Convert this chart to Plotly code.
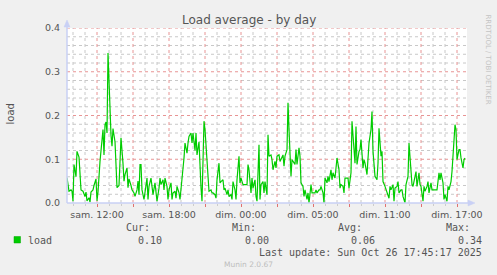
import plotly.graph_objects as go

# ---- data: minutes since sam. 09:30 (5-minute samples), load average ----
minutes = [0, 5, 10, 20, 25, 30, 35, 45, 50, 60, 65, 70, 80, 85, 90, 95, 100, 110, 115, 120,
           130, 135, 145, 150, 155, 165, 170, 180, 185, 190, 195, 200, 205, 215, 220, 225, 230, 240, 245, 250,
           260, 265, 270, 280, 285, 290, 300, 305, 310, 320,
           325, 335, 340, 350, 355, 360, 365, 370, 375, 385, 390, 400, 405, 410, 420, 425, 430, 440, 445, 450,
           460, 465, 470, 480, 485, 490, 500, 505, 510, 520, 525, 530, 540, 545, 550, 560, 565, 570, 580, 585,
           590, 600, 605, 610, 620, 625, 630, 640, 645, 650, 660, 665, 670,
           675, 680, 685, 690, 700, 705, 710, 720, 725, 730, 740, 745, 750, 760, 765, 770, 780, 785, 790, 800,
           805, 810, 820, 825, 830, 840, 845, 850, 860, 865, 870, 880, 885, 890, 900, 905, 910, 920, 925, 930,
           940, 945, 950, 960, 965, 970, 980, 985, 990, 1000, 1005, 1010,
           1020, 1025, 1030, 1040, 1045, 1050, 1060, 1065, 1070, 1080, 1085, 1090, 1100, 1105, 1110, 1120, 1125,
           1130, 1140, 1145, 1150, 1160, 1165, 1170, 1180, 1185, 1190, 1200, 1205, 1210, 1220, 1225, 1230, 1240,
           1245, 1250, 1260, 1265, 1270, 1280, 1285, 1290, 1300, 1305, 1310, 1320, 1325, 1330, 1340, 1345, 1350,
           1360, 1365, 1370, 1380, 1385, 1390, 1400, 1405, 1410, 1420, 1425, 1430, 1440, 1445, 1450, 1460, 1465,
           1470, 1480, 1485, 1490, 1500, 1505, 1510, 1520, 1525, 1530, 1535, 1540, 1550, 1555, 1560, 1570, 1575,
           1580, 1590, 1595, 1600, 1610, 1615, 1620, 1630, 1635, 1640, 1650, 1655, 1660, 1670, 1675, 1680, 1690, 1695,
           1700, 1705, 1710, 1720, 1725, 1730, 1740, 1745, 1750, 1760, 1765, 1770, 1780, 1785, 1790, 1800, 1805,
           1810, 1820, 1825, 1830, 1840, 1845, 1850, 1860, 1865, 1870, 1880, 1885, 1890, 1900, 1905, 1910, 1920,
           1925, 1930, 1940, 1945, 1950, 1960, 1965, 1970, 1980, 1985, 1990]
load = [0.058, 0.042, 0.027, 0.030, 0.027, 0.004, 0.088, 0.060, 0.118, 0.105, 0.050, 0.030, 0.027, 0.020, 0.015, 0.025, 0.005, 0.012, 0.002, 0.025,
        0.030, 0.040, 0.055, 0.005, 0.025, 0.095, 0.126, 0.168, 0.110, 0.179, 0.185, 0.160, 0.343, 0.209, 0.155, 0.130, 0.170, 0.140, 0.088, 0.035,
        0.040, 0.080, 0.149, 0.090, 0.050, 0.065, 0.080, 0.035, 0.055, 0.040,
        0.030, 0.023, 0.015, 0.030, 0.050, 0.019, 0.088, 0.088, 0.030, 0.008, 0.023, 0.057, 0.008, 0.038, 0.057, 0.030, 0.019, 0.046, 0.027, 0.004,
        0.034, 0.057, 0.042, 0.053, 0.030, 0.057, 0.038, 0.008, 0.030, 0.046, 0.008, 0.023, 0.027, 0.011, 0.038, 0.023, 0.008, 0.030, 0.076, 0.103,
        0.137, 0.114, 0.137, 0.152, 0.160, 0.137, 0.160, 0.120, 0.160, 0.110, 0.140, 0.076, 0.035,
        0.004, 0.122, 0.187, 0.168, 0.084, 0.038, 0.027, 0.030, 0.023, 0.023, 0.019, 0.011, 0.053, 0.091, 0.046, 0.049, 0.053, 0.030, 0.034, 0.019,
        0.030, 0.015, 0.019, 0.008, 0.049, 0.030, 0.008, 0.053, 0.107, 0.046, 0.057, 0.042, 0.042, 0.042, 0.042, 0.088, 0.076, 0.023, 0.057, 0.034,
        0.053, 0.015, 0.004, 0.133, 0.008, 0.042, 0.049, 0.023, 0.049, 0.019, 0.156, 0.107,
        0.110, 0.099, 0.076, 0.095, 0.080, 0.107, 0.110, 0.095, 0.099, 0.110, 0.084, 0.107, 0.122, 0.229, 0.168, 0.061, 0.099,
        0.095, 0.088, 0.122, 0.088, 0.126, 0.107, 0.046, 0.038, 0.015, 0.030, 0.008, 0.023, 0.000, 0.042, 0.023, 0.023, 0.023,
        0.030, 0.023, 0.030, 0.030, 0.038, 0.023, 0.000, 0.057, 0.046, 0.061, 0.049, 0.076, 0.053, 0.069, 0.057, 0.090, 0.103,
        0.076, 0.034, 0.042, 0.038, 0.023, 0.057, 0.057, 0.057, 0.034, 0.069, 0.187, 0.156, 0.091, 0.175, 0.088, 0.118, 0.122,
        0.145, 0.080, 0.099, 0.091, 0.065, 0.107, 0.137, 0.168, 0.209, 0.118, 0.076, 0.061, 0.053, 0.091, 0.171, 0.107, 0.118,
        0.049, 0.038, 0.030, 0.023, 0.011, 0.038, 0.030, 0.042, 0.004, 0.034, 0.038, 0.049, 0.023, 0.030, 0.030, 0.015, 0.000, 0.042,
        0.053, 0.061, 0.137, 0.084, 0.042, 0.038, 0.061, 0.072, 0.038, 0.069, 0.042, 0.038, 0.004, 0.038, 0.027, 0.038, 0.049,
        0.023, 0.046, 0.030, 0.030, 0.030, 0.030, 0.030, 0.069, 0.053, 0.069, 0.046, 0.008, 0.019, 0.004, 0.038, 0.030, 0.049,
        0.072, 0.114, 0.179, 0.168, 0.099, 0.122, 0.122, 0.103, 0.080, 0.099, 0.103]

x_range = [0, 2000]
y_range = [0, 0.4]
major_ticks = [150, 330, 510, 690, 870, 1050, 1230, 1410, 1590, 1770, 1950]
major_labels = ["sam. 12:00", "", "sam. 18:00", "", "dim. 00:00", "", "dim. 05:00", "", "dim. 11:00", "", "dim. 17:00"]
y_ticks = [0.0, 0.1, 0.2, 0.3, 0.4]
y_labels = ["0.0", "0.1", "0.2", "0.3", "0.4"]
minor_x_step = 60      # one gray line per hour
minor_y_step = 0.02

series_name = "load"
stat_names = ["Cur:", "Min:", "Avg:", "Max:"]
stat_values = ["0.10", "0.00", "0.06", "0.34"]

title = "Load average - by day"
last_update = "Last update: Sun Oct 26 17:45:17 2025"
footer = "Munin 2.0.67"
side_text = "RRDTOOL / TOBI OETIKER"

# ---- layout geometry ----
W, H = 497, 275
L, T, PW, PH = 67, 28, 400, 175
R, B = W - L - PW, H - T - PH

def px(x):
    return (x - L) / PW

def py(y):
    return (T + PH - y) / PH

RED = "#e89494"
GRAY = "#c8c8c8"
AXIS = "#c9d0f5"
FONT = "#555555"

fig = go.Figure()
fig.add_trace(go.Scatter(x=minutes, y=load, mode="lines",
                         line=dict(color="#00cc00", width=1.2), hoverinfo="skip"))

fig.update_layout(
    width=W, height=H,
    margin=dict(l=L, r=R, t=T, b=B, pad=0),
    paper_bgcolor="#f0f0f0", plot_bgcolor="#ffffff",
    showlegend=False,
    font=dict(family="DejaVu Sans", size=10, color=FONT),
)

fig.update_xaxes(
    range=x_range, tickmode="array", tickvals=major_ticks, ticktext=major_labels,
    showgrid=False,
    ticks="outside", ticklen=3, tickcolor="#e07070", tickwidth=1,
    tickfont=dict(size=9.5, color=FONT, family="DejaVu Sans"),
    minor=dict(tick0=major_ticks[0], dtick=minor_x_step, showgrid=False,
               ticks="outside", ticklen=2, tickcolor="#cccccc"),
    showline=False, zeroline=False, fixedrange=True,
)
fig.update_yaxes(
    range=y_range, tickmode="array", tickvals=y_ticks, ticktext=y_labels,
    showgrid=False,
    ticks="", ticklabelstandoff=6,
    tickfont=dict(size=9.5, color=FONT, family="DejaVu Sans"),
    showline=False, zeroline=False, fixedrange=True,
)

shapes = []
# minor (gray) grid, skipping positions of the major grid
xv = major_ticks[0] % minor_x_step
while xv < x_range[1]:
    if xv not in major_ticks:
        shapes.append(dict(type="line", xref="x", yref="paper", x0=xv, x1=xv, y0=0, y1=1,
                           line=dict(color=GRAY, width=1, dash="dot"), layer="below"))
    xv += minor_x_step
k = 1
while k * minor_y_step < y_range[1] - 1e-9:
    yv = round(k * minor_y_step, 4)
    if all(abs(yv - t) > 1e-9 for t in y_ticks):
        shapes.append(dict(type="line", xref="paper", yref="y", x0=0, x1=1, y0=yv, y1=yv,
                           line=dict(color=GRAY, width=1, dash="dot"), layer="below"))
    k += 1
# major (red) grid
for xv in major_ticks:
    shapes.append(dict(type="line", xref="x", yref="paper", x0=xv, x1=xv, y0=0, y1=1,
                       line=dict(color=RED, width=1, dash="dot"), layer="below"))
for yv in y_ticks[1:]:
    shapes.append(dict(type="line", xref="paper", yref="y", x0=0, x1=1, y0=yv, y1=yv,
                       line=dict(color=RED, width=1, dash="dot"), layer="below"))
# axes with arrows
shapes.append(dict(type="line", xref="paper", yref="paper", x0=0, x1=px(469), y0=0, y1=0,
                   line=dict(color=AXIS, width=1.5), layer="above"))
shapes.append(dict(type="path", xref="paper", yref="paper",
                   path=f"M {px(468)} {py(200)} L {px(475)} {py(203)} L {px(468)} {py(206)} Z",
                   fillcolor=AXIS, line=dict(color=AXIS, width=0.5), layer="above"))
shapes.append(dict(type="line", xref="paper", yref="paper", x0=0, x1=0, y0=0, y1=py(26),
                   line=dict(color=AXIS, width=1.5), layer="above"))
shapes.append(dict(type="path", xref="paper", yref="paper",
                   path=f"M {px(64)} {py(27)} L {px(67)} {py(20)} L {px(70)} {py(27)} Z",
                   fillcolor=AXIS, line=dict(color=AXIS, width=0.5), layer="above"))
# legend colour box
shapes.append(dict(type="rect", xref="paper", yref="paper",
                   x0=px(14), x1=px(20.5), y0=py(243), y1=py(236.5),
                   fillcolor="#00cc00", line=dict(color="#00aa00", width=0.5)))
fig.update_layout(shapes=shapes)

ann = []
def text(s, x, y, size=10, color=FONT, family="DejaVu Sans Mono", xanchor="left", angle=0):
    ann.append(dict(text=s, x=px(x), y=py(y), xref="paper", yref="paper", showarrow=False,
                    xanchor=xanchor, yanchor="middle", textangle=angle,
                    font=dict(size=size, color=color, family=family), borderpad=0))

text(title, 248.5, 19.5, size=12, family="DejaVu Sans", xanchor="center")
text("load", 10, 114.5, size=10, family="DejaVu Sans", xanchor="center", angle=-90)
text(side_text, 487.5, 59, size=7, color="#c4c4c4", family="DejaVu Sans", xanchor="center", angle=90)
text(series_name, 26.5, 240)
stat_header_right = [150.5, 257, 363, 470.5]
stat_value_right = [163, 269.5, 376, 483]
for name, val, hx, vx in zip(stat_names, stat_values, stat_header_right, stat_value_right):
    text(name, hx, 227.7, xanchor="right")
    text(val, vx, 240, xanchor="right")
text(last_update, 483, 252, xanchor="right")
text(footer, 248, 264, size=7.5, color="#bdbdbd", family="DejaVu Sans", xanchor="center")
fig.update_layout(annotations=ann)

fig.write_html("out.html", config={"displayModeBar": False})
